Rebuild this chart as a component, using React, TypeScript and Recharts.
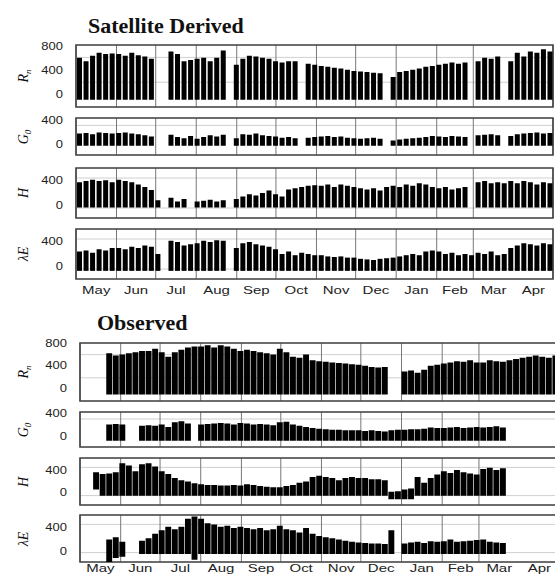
import React from "react";
import { ComposedChart, Bar, XAxis, YAxis, CartesianGrid, ReferenceArea } from "recharts";

const MONTHS = ["May", "Jun", "Jul", "Aug", "Sep", "Oct", "Nov", "Dec", "Jan", "Feb", "Mar", "Apr"];
const MONTH_START = [0, 31, 61, 92, 123, 153, 184, 214, 245, 276, 304, 335, 365];
const MONTH_MID = MONTH_START.slice(0, -1).map((d, i) => (d + MONTH_START[i + 1]) / 2);
const BIN = 5; // days per bin, 73 bins from May 1

// Satellite derived: upper envelope of each 5-day bin (W/m2), null = no retrieval
const satRn = [
  620, 560, 650, 700, 680, 690,
  680, 650, 700, 660, 640, 600,
  null, null, 720, 680, 560, 580, 600,
  620, 560, 620, 740, null, 500,
  600, 650, 640, 620, 600, 560,
  540, 560, 560, null, 520, 500,
  480, 470, 450, 440, 420, 400,
  390, 380, 370, 360, null, 300,
  380, 400, 420, 440, 470, 480,
  500, 520, 540, 520, 540, null,
  560, 620, 600, 640, null, 560,
  700, 640, 720, 700, 760, 720,
];
const satG0 = [
  180, 190, 170, 200, 190, 180,
  190, 200, 180, 170, 150, 130,
  null, null, 160, 120, 100, 140, 90,
  120, 150, 130, 160, null, 100,
  170, 160, 180, 150, 140, 130,
  110, 120, 100, null, 110, 120,
  130, 140, 120, 130, 110, 100,
  90, 100, 110, 90, null, 60,
  80, 90, 100, 110, 120, 140,
  130, 120, 140, 130, 120, null,
  150, 160, 170, 150, null, 140,
  170, 180, 190, 200, 180, 190,
];
const satH = [
  380, 400, 420, 400, 410, 380,
  420, 400, 380, 340, 300, 250,
  80, null, 120, 60, 100, null, 60,
  70, 90, 60, 80, null, 100,
  140, 180, 160, 200, 240, 180,
  140, 260, 280, 300, 320, 330,
  320, 340, 300, 340, 320, 300,
  280, 260, 280, 240, 300, 320,
  300, 340, 320, 360, 340, 300,
  280, 300, 260, 280, 300, null,
  380, 400, 360, 380, 360, 400,
  360, 400, 380, 340, 380, 360,
];
const satLE = [
  240, 260, 220, 280, 260, 300,
  300, 280, 320, 300, 340, 320,
  200, null, 420, 400, 340, 360, 380,
  420, 400, 430, 420, null, 300,
  380, 400, 360, 340, 320, 280,
  200, 240, 180, 220, 200, 180,
  180, 160, 150, 160, 140, 140,
  120, 110, 100, 120, 130, 140,
  160, 180, 200, 180, 240, 260,
  240, 200, 220, 180, 200, 180,
  220, 200, 240, 180, 200, 300,
  340, 380, 360, 340, 380, 360,
];
const satLow = { rn: -80, g0: -30, h: -40, le: -80 };

// Observed
const obsRn = [
  null, null, null, null, 620, 580,
  600, 620, 640, 660, 660, 700,
  640, 560, 640, 680, 720, 740, 740,
  760, 720, 760, 740, 700, 660,
  680, 660, 640, 620, 600, 700,
  640, 560, 540, 600, 500, 480,
  470, 460, 450, 440, 430, 420,
  400, 380, 370, 380, null, null,
  300, 320, 280, 330, 400, 420,
  440, 460, 480, 470, 500, 460,
  460, 500, 480, 470, 500, 520,
  540, 560, 580, 560, 540, 580,
];
const obsG0 = [
  null, null, null, null, 200, 210,
  200, null, null, 180, 190, 180,
  200, 160, 240, 260, 220, null, 200,
  210, 220, 230, 220, 200, 230,
  220, 200, 210, 200, 190, 240,
  250, 200, 180, 160, 140, 130,
  120, 110, 110, 100, 100, 100,
  90, 100, 90, 80, 100, 110,
  110, 120, 120, 130, 150, 140,
  140, 150, 160, 140, 150, 160,
  150, 160, 170, 150, null, null,
  null, null, null, null, null, null,
];
const obsH = [
  null, null, 360, 330, 340, 360,
  520, 480, 380, 500, 520, 460,
  380, 330, 260, 220, 200, 170, 150,
  140, 140, 130, 130, 140, 130,
  150, 140, 120, 110, 100, 100,
  120, 140, 180, 200, 280, 300,
  280, 260, 220, 260, 280, 260,
  260, 240, 240, 220, 20, 30,
  60, 80, 280, 180, 260, 320,
  380, 350, 400, 360, 340, 320,
  420, 440, 400, 430, null, null,
  null, null, null, null, null, null,
];
const obsHLow = [
  -50, -50, 60, -50, -50, -50,
  -50, -50, -50, -50, -50, -50,
  -50, -50, -50, -50, -50, -50, -50,
  -50, -50, -50, -50, -50, -50,
  -50, -50, -50, -50, -50, -50,
  -50, -50, -50, -50, -50, -50,
  -50, -50, -50, -50, -50, -50,
  -50, -50, -50, -50, -110, -110,
  -110, -110, -50, -50, -50, -50,
  -50, -50, -50, -50, -50, -50,
  -50, -50, -50, -50, -50, -50,
  -50, -50, -50, -50, -50, -50,
];
const obsLE = [
  null, null, null, null, 200, 240,
  160, null, null, 180, 220, 300,
  360, 420, 380, 420, 560, 600, 560,
  480, 460, 420, 440, 400, 420,
  400, 380, 400, 360, 380, 440,
  380, 360, 320, 400, 300, 260,
  240, 220, 200, 180, 160, 150,
  140, 130, 130, 120, 360, null,
  130, 150, 160, 140, 170, 160,
  170, 200, 160, 170, 180, 190,
  200, 160, 150, 140, null, null,
  null, null, null, null, null, null,
];
const obsLELow = [
  -50, -50, -50, -50, -190, -120,
  -100, -50, -50, -50, -50, -50,
  -50, -50, -50, -50, -50, -150, -50,
  -50, -50, -50, -50, -50, -50,
  -50, -50, -50, -50, -50, -50,
  -50, -50, -50, -50, -50, -50,
  -50, -50, -50, -50, -50, -50,
  -50, -50, -50, -50, -50, -50,
  -50, -50, -50, -50, -50, -50,
  -50, -50, -50, -50, -50, -50,
  -50, -50, -50, -50, -50, -50,
  -50, -50, -50, -50, -50, -50,
];
const obsLow = { rn: -100, g0: -80 };

const SANS = "'Liberation Sans', Arial, sans-serif";
const SERIF = "'Liberation Serif', 'Times New Roman', serif";
const PAD = 7; // room above each box so the top tick label is not clipped

function toRows(hi: (number | null)[], lo: number | number[]) {
  return hi.map((h, i) => ({
    x: i * BIN + BIN / 2,
    v: h === null ? null : [Array.isArray(lo) ? lo[i] : lo, h],
  }));
}

function YTick({ x, y, payload }: any) {
  return (
    <text transform={`translate(${x},${y}) scale(1.3,1)`} textAnchor="end" dy={3.5}
      fontSize={10} fontFamily={SANS} fill="#222">
      {payload.value}
    </text>
  );
}

function XTick({ x, y, index, shift }: any) {
  return (
    <text transform={`translate(${x},${y + shift}) scale(1.5,1)`} textAnchor="middle"
      fontSize={10} fontFamily={SANS} fill="#222">
      {MONTHS[index]}
    </text>
  );
}

interface PanelProps {
  data: { x: number; v: number[] | null }[];
  top: number;
  bottom: number;
  left: number;
  right: number;
  domain: [number, number];
  ticks: number[];
  barSize: number;
  showX?: boolean;
  labelShift?: number;
}

function Panel({ data, top, bottom, left, right, domain, ticks, barSize, showX, labelShift = 7 }: PanelProps) {
  const axisH = showX ? 22 : 0;
  const h = bottom - top;
  const gridY = [1, 2, 3, 4].map((k) => domain[0] + ((domain[1] - domain[0]) * k) / 5);
  return (
    <div style={{ position: "absolute", left: 0, top: top - PAD }}>
      <ComposedChart width={right + 1} height={h + PAD + 1 + axisH} data={data}
        margin={{ top: PAD, right: 1, bottom: 1, left: left - 30 }}>
        <XAxis type="number" dataKey="x" domain={[0, 365]} ticks={MONTH_MID} hide={!showX}
          height={axisH} axisLine={false} tickLine={false} tick={<XTick shift={labelShift} />} interval={0} />
        <XAxis xAxisId="g" type="number" dataKey="x" domain={[0, 365]} ticks={MONTH_START} hide />
        <YAxis type="number" domain={domain} ticks={ticks} width={30} allowDataOverflow
          axisLine={false} tickLine={false} tickMargin={7} tick={<YTick />} interval={0} />
        <YAxis yAxisId="g" type="number" domain={domain} ticks={gridY} allowDataOverflow hide />
        <CartesianGrid xAxisId="g" yAxisId="g" vertical={false} stroke="#d0d0d0" />
        <CartesianGrid xAxisId="g" yAxisId="g" horizontal={false} stroke="#777" />
        <Bar dataKey="v" fill="#000" barSize={barSize} isAnimationActive={false} />
        <ReferenceArea x1={0} x2={365} y1={domain[0]} y2={domain[1]} fill="none"
          fillOpacity={0} stroke="#444" strokeWidth={1.6} ifOverflow="visible" />
      </ComposedChart>
    </div>
  );
}

function AxisLabel({ y, sym, sub }: { y: number; sym: string; sub?: string }) {
  return (
    <text transform={`translate(28,${y}) rotate(-90)`} textAnchor="middle"
      fontFamily={SERIF} fontStyle="italic" fontSize={14} fill="#111">
      {sym}
      {sub && <tspan fontSize={9} dy={3}>{sub}</tspan>}
    </text>
  );
}

const SAT = { left: 76, right: 553 };
const OBS = { left: 80, right: 559 };

export default function App() {
  return (
    <div style={{ position: "absolute", left: 0, top: 0, width: 555, height: 575, overflow: "hidden", background: "#fff" }}>
      <Panel data={toRows(satRn, satLow.rn)} top={45} bottom={107} {...SAT} domain={[-200, 830]} ticks={[0, 400, 800]} barSize={5} />
      <Panel data={toRows(satG0, satLow.g0)} top={118} bottom={155} {...SAT} domain={[-190, 450]} ticks={[0, 400]} barSize={5} />
      <Panel data={toRows(satH, satLow.h)} top={168} bottom={218} {...SAT} domain={[-215, 615]} ticks={[0, 400]} barSize={5} />
      <Panel data={toRows(satLE, satLow.le)} top={229} bottom={279} {...SAT} domain={[-215, 615]} ticks={[0, 400]} barSize={5} showX />

      <Panel data={toRows(obsRn, obsLow.rn)} top={343} bottom={401} {...OBS} domain={[-215, 800]} ticks={[0, 400, 800]} barSize={7} />
      <Panel data={toRows(obsG0, obsLow.g0)} top={412} bottom={447} {...OBS} domain={[-190, 420]} ticks={[0, 400]} barSize={7} />
      <Panel data={toRows(obsH, obsHLow)} top={458} bottom={505} {...OBS} domain={[-210, 610]} ticks={[0, 400]} barSize={7} />
      <Panel data={toRows(obsLE, obsLELow)} top={515} bottom={562} {...OBS} domain={[-190, 625]} ticks={[0, 400]} barSize={7} showX labelShift={2} />

      <svg width={555} height={575} style={{ position: "absolute", left: 0, top: 0, pointerEvents: "none" }}>
        <text x={88} y={33} fontFamily={SERIF} fontWeight="bold" fontSize={22} fill="#111">Satellite Derived</text>
        <text x={97} y={330} fontFamily={SERIF} fontWeight="bold" fontSize={22} fill="#111">Observed</text>
        <AxisLabel y={76} sym="R" sub="n" />
        <AxisLabel y={137} sym="G" sub="0" />
        <AxisLabel y={193} sym="H" />
        <AxisLabel y={254} sym="λE" />
        <AxisLabel y={372} sym="R" sub="n" />
        <AxisLabel y={430} sym="G" sub="0" />
        <AxisLabel y={482} sym="H" />
        <AxisLabel y={539} sym="λE" />
      </svg>
    </div>
  );
}
